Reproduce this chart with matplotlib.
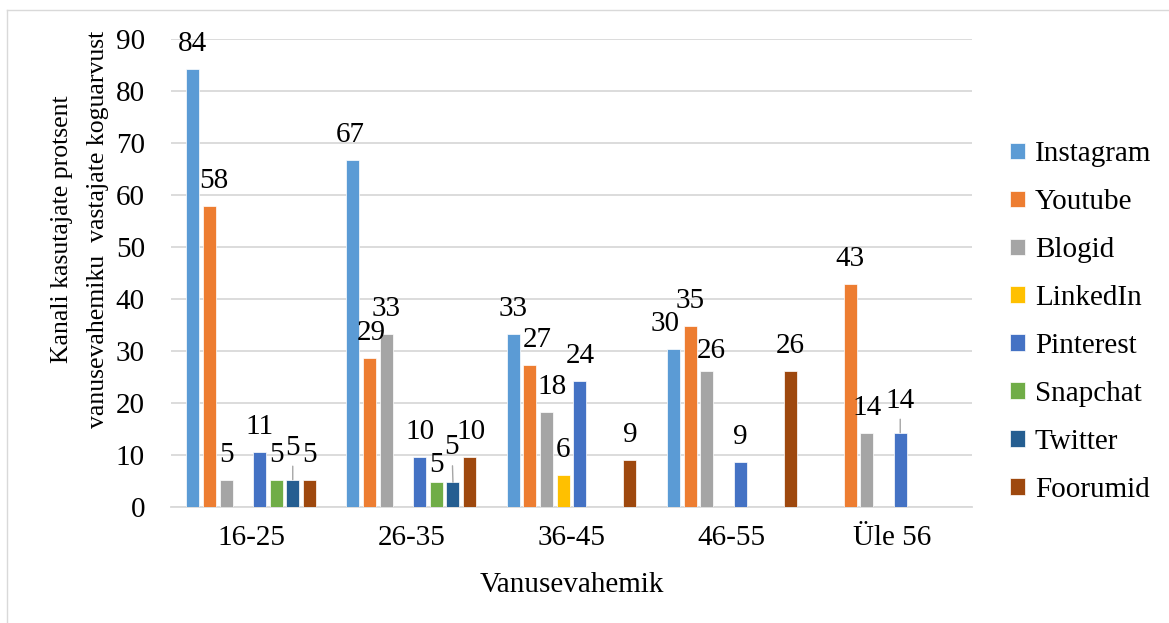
import matplotlib
matplotlib.use("Agg")
import matplotlib.pyplot as plt
from matplotlib.lines import Line2D
import numpy as np

# ---------------- data ----------------
categories = ["16-25", "26-35", "36-45", "46-55", "Üle 56"]
series_names = ["Instagram", "Youtube", "Blogid", "LinkedIn",
                "Pinterest", "Snapchat", "Twitter", "Foorumid"]
instagram = [84.21, 66.67, 33.33, 30.43, 0]
youtube   = [57.89, 28.57, 27.27, 34.78, 42.86]
blogid    = [5.26, 33.33, 18.18, 26.09, 14.29]
linkedin  = [0, 0, 6.06, 0, 0]
pinterest = [10.53, 9.52, 24.24, 8.70, 14.29]
snapchat  = [5.26, 4.76, 0, 0, 0]
twitter   = [5.26, 4.76, 0, 0, 0]
foorumid  = [5.26, 9.52, 9.09, 26.09, 0]
yticks = [0, 10, 20, 30, 40, 50, 60, 70, 80, 90]

series_values = [instagram, youtube, blogid, linkedin,
                 pinterest, snapchat, twitter, foorumid]

# ---------------- style ----------------
colors = ["#5B9BD5", "#ED7D31", "#A5A5A5", "#FFC000",
          "#4472C4", "#70AD47", "#255E91", "#9E480E"]
grid_color = "#D9D9D9"
FS = 21

# label adjustments in pixels: (group, series) -> (dx, dy, leader)
label_adj = {
    (0, 1): (4, 0, False),
    (0, 6): (0, 7, True),
    (1, 0): (-3, 0, False),
    (1, 1): (2, 0, False),
    (1, 5): (0, -8, False),
    (1, 6): (-1, 10, True),
    (1, 7): (1, 0, False),
    (2, 1): (7, 0, False),
    (2, 2): (6, 0, False),
    (3, 0): (-8, 0, False),
    (3, 2): (5, -5, False),
    (4, 4): (0, 7, True),
}

plt.rcParams["font.family"] = ["Liberation Serif", "DejaVu Serif"]

W, H, DPI = 1169, 623, 100
fig = plt.figure(figsize=(W / DPI, H / DPI), dpi=DPI)
px = 72.0 / DPI  # points per pixel

ax = fig.add_axes([171 / W, 1 - 507 / H, (972 - 171) / W, (507 - 39) / H])

n = len(series_names)
slot = 0.104
width = 0.081
x = np.arange(len(categories))

for i, (name, vals, col) in enumerate(zip(series_names, series_values, colors)):
    xs = x + (i - (n - 1) / 2) * slot
    vals = np.asarray(vals, dtype=float)
    mask = vals > 0
    ax.bar(xs[mask], vals[mask], width=width, color=col, edgecolor="white",
           linewidth=0.5, label=name, zorder=3)
    for g in np.where(mask)[0]:
        v = vals[g]
        dx, dy, leader = label_adj.get((g, i), (0, 0, False))
        kw = {}
        if leader:
            kw["arrowprops"] = dict(arrowstyle="-", color="#A6A6A6", lw=1.0,
                                    shrinkA=2, shrinkB=0)
        ax.annotate(f"{v:.0f}", xy=(xs[g], v),
                    xytext=(dx * px, (18 + dy) * px), textcoords="offset points",
                    ha="center", va="baseline", fontsize=FS, color="black",
                    zorder=5, **kw)

ax.set_xlim(-0.5, len(categories) - 0.5)
ax.set_ylim(0, 90)
ax.set_yticks(yticks)
ax.set_xticks(x)
ax.set_xticklabels(categories)
ax.tick_params(axis="both", length=0, labelsize=FS)
ax.tick_params(axis="y", pad=26 * px)
ax.tick_params(axis="x", pad=18 * px)
ax.grid(axis="y", color=grid_color, linewidth=1.3, zorder=0)
ax.set_axisbelow(True)
for s in ["top", "right", "left"]:
    ax.spines[s].set_visible(False)
ax.spines["bottom"].set_color(grid_color)
ax.spines["bottom"].set_linewidth(1.3)

# axis titles
fig.text(80 / W, 1 - 229 / H,
         "Kanali kasutajate protsent\nvanusevahemiku  vastajate koguarvust",
         rotation=90, ha="center", va="center", multialignment="center",
         fontsize=18.5, linespacing=1.8)
fig.text(571.5 / W, 1 - 592 / H, "Vanusevahemik", ha="center", va="baseline",
         fontsize=FS)

# legend
leg = ax.legend(loc="center left", bbox_to_anchor=(1010 / W, 1 - 322 / H),
                bbox_transform=fig.transFigure, frameon=False, fontsize=FS,
                handlelength=0.5, handleheight=0.5, handletextpad=0.35,
                labelspacing=0.75, borderaxespad=0, borderpad=0)

# figure border (light gray)
fig.add_artist(Line2D([7 / W, 1.0], [1 - 10 / H, 1 - 10 / H],
                      transform=fig.transFigure, color="#D9D9D9", lw=1.0))
fig.add_artist(Line2D([7 / W, 7 / W], [0, 1 - 10 / H],
                      transform=fig.transFigure, color="#D9D9D9", lw=1.0))

fig.savefig("out.png", dpi=DPI)
